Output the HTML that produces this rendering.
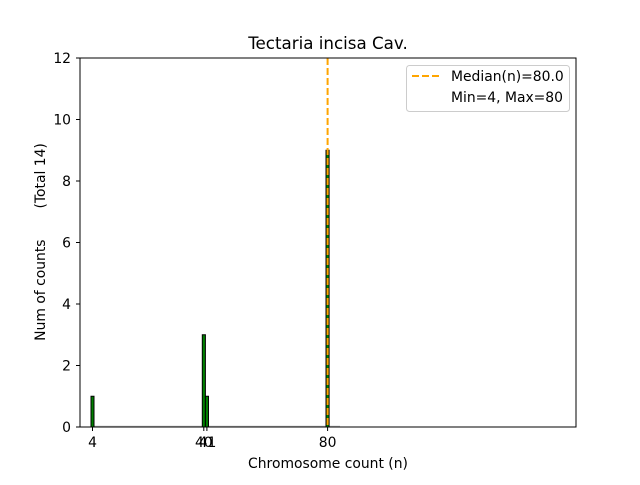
<!DOCTYPE html>
<html><head><style>body{margin:0;background:#fff}</style></head><body>
<svg width="640" height="480" xmlns="http://www.w3.org/2000/svg" font-family="DejaVu Sans, sans-serif">
<rect width="640" height="480" fill="#fff"/>
<text x="328" y="49" font-size="16.7" text-anchor="middle">Tectaria incisa Cav.</text>
<line x1="92" y1="426.5" x2="340" y2="426.5" stroke="#bbb" stroke-width="1.5"/>
<g fill="green" stroke="#000" stroke-width="1">
<rect x="91" y="396.25" width="3" height="30.75"/>
<rect x="202.3" y="334.75" width="3.1" height="92.25"/>
<rect x="205.4" y="396.25" width="3.1" height="30.75"/>
<rect x="326" y="150.25" width="3.1" height="276.75"/>
</g>
<line x1="327.6" y1="58" x2="327.6" y2="427" stroke="orange" stroke-width="2" stroke-dasharray="7,3"/>
<rect x="80" y="58" width="496" height="369" fill="none" stroke="#000" stroke-width="1"/>
<g font-size="13.9" text-anchor="end">
<text x="71" y="432">0</text><text x="71" y="370.5">2</text><text x="71" y="309">4</text>
<text x="71" y="247.5">6</text><text x="71" y="186">8</text><text x="71" y="124.5">10</text><text x="71" y="63">12</text>
</g>
<g stroke="#000">
<line x1="76" y1="427" x2="80" y2="427"/><line x1="76" y1="365.5" x2="80" y2="365.5"/><line x1="76" y1="304" x2="80" y2="304"/>
<line x1="76" y1="242.5" x2="80" y2="242.5"/><line x1="76" y1="181" x2="80" y2="181"/><line x1="76" y1="119.5" x2="80" y2="119.5"/><line x1="76" y1="58" x2="80" y2="58"/>
<line x1="92.5" y1="427" x2="92.5" y2="431"/><line x1="203.8" y1="427" x2="203.8" y2="431"/><line x1="206.9" y1="427" x2="206.9" y2="431"/><line x1="327.6" y1="427" x2="327.6" y2="431"/>
</g>
<g font-size="13.9" text-anchor="middle">
<text x="92.5" y="447">4</text><text x="203.8" y="447">40</text><text x="207.5" y="447">41</text><text x="327.6" y="447">80</text>
</g>
<text x="328" y="468" font-size="13.9" text-anchor="middle">Chromosome count (n)</text>
<text transform="translate(45,242) rotate(-90)" font-size="13.9" text-anchor="middle" xml:space="preserve">Num of counts       (Total 14)</text>
<rect x="406.5" y="65.5" width="163" height="46" rx="3" fill="#fff" stroke="#ccc"/>
<line x1="412" y1="76" x2="440" y2="76" stroke="orange" stroke-width="2" stroke-dasharray="7,3"/>
<text x="451" y="81" font-size="13.9">Median(n)=80.0</text>
<text x="451" y="102" font-size="13.9">Min=4, Max=80</text>
</svg>
</body></html>
